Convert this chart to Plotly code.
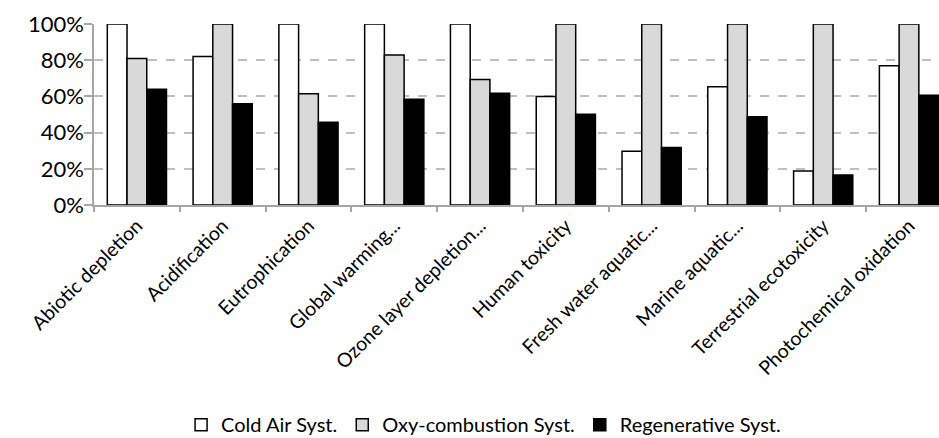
import plotly.graph_objects as go

categories = ["Abiotic depletion", "Acidification", "Eutrophication", "Global warming...",
              "Ozone layer depletion...", "Human toxicity", "Fresh water aquatic...",
              "Marine aquatic...", "Terrestrial ecotoxicity", "Photochemical oxidation"]
cold_air = [1.00, 0.82, 1.00, 1.00, 1.00, 0.60, 0.297, 0.654, 0.188, 0.77]
oxy_comb = [0.81, 1.00, 0.615, 0.829, 0.694, 1.00, 1.00, 1.00, 1.00, 1.00]
regen = [0.639, 0.56, 0.457, 0.584, 0.617, 0.501, 0.317, 0.488, 0.166, 0.606]

series = [("Cold Air Syst.", cold_air, "#FFFFFF"),
          ("Oxy-combustion Syst.", oxy_comb, "#D9D9D9"),
          ("Regenerative Syst.", regen, "#000000")]

fig = go.Figure()
for name, vals, col in series:
    fig.add_trace(go.Bar(x=categories, y=vals, name=name,
                         marker=dict(color=col, line=dict(color="#000000", width=1.5))))

font_family = "Lato, 'Open Sans', sans-serif"
fig.update_layout(
    width=939, height=438,
    margin=dict(l=94, r=0, t=24, b=233),
    paper_bgcolor="white", plot_bgcolor="white",
    barmode="group", bargap=0.31, bargroupgap=0,
    font=dict(family=font_family, color="#000000"),
    showlegend=True,
    legend=dict(orientation="h", xref="container", yref="container",
                x=0.515, xanchor="center", y=0.075, yanchor="top",
                font=dict(size=20, family=font_family), traceorder="normal",
                itemwidth=30),
    xaxis=dict(range=[-0.5, 9.35], showline=True, linecolor="#A6A6A6", linewidth=1.5,
               ticks="outside", tickson="boundaries", ticklen=5, tickcolor="#A6A6A6",
               tickwidth=1.5, tickangle=-45, tickfont=dict(size=19.5), showgrid=False,
               automargin=False),
    yaxis=dict(range=[0, 1], tickformat=".0%", dtick=0.2, showgrid=True,
               griddash="dash", gridcolor="#BFBFBF", gridwidth=1.5, zeroline=False,
               showline=True, linecolor="#A6A6A6", linewidth=1.5, ticks="outside",
               ticklen=8, tickcolor="#A6A6A6", tickwidth=1.5, ticklabelstandoff=-4,
               tickfont=dict(size=22), automargin=False),
)
fig.write_html("out.html", config={"displayModeBar": False},
               post_script="document.body.style.margin='0';document.body.style.overflow='hidden';")
